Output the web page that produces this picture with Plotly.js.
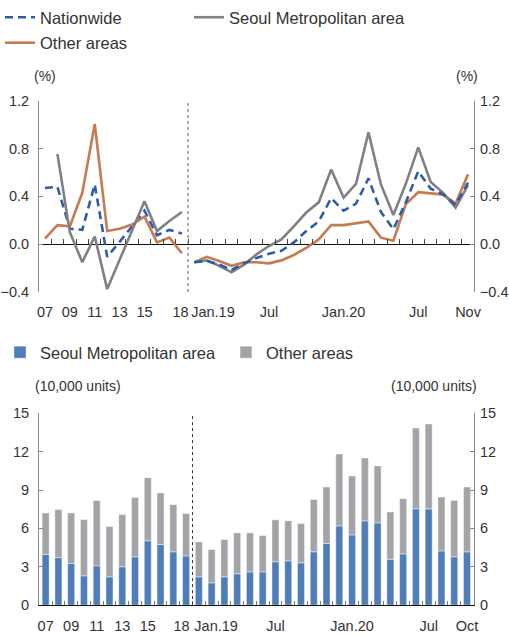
<!DOCTYPE html>
<html>
<head>
<meta charset="utf-8">
<script src="https://cdn.plot.ly/plotly-3.0.1.min.js"></script>
<style>
  html, body { margin: 0; padding: 0; background: #fff; }
  #chart { width: 509px; height: 635px; }
</style>
</head>
<body>
<div id="chart"></div>
<script>
// ---------------- DATA ----------------
const annualLabels = ['07','08','09','10','11','12','13','14','15','16','17','18'];
const monthLabels19 = ['Jan.19','Feb.19','Mar.19','Apr.19','May.19','Jun.19','Jul.19','Aug.19','Sep.19','Oct.19','Nov.19','Dec.19'];
const monthLabels20 = ['Jan.20','Feb.20','Mar.20','Apr.20','May.20','Jun.20','Jul.20','Aug.20','Sep.20','Oct.20','Nov.20'];

// Housing price change (%)
const nationAnnual = [0.47, 0.48, 0.13, 0.12, 0.50, -0.105, 0.02, 0.15, 0.28, 0.075, 0.12, 0.09];
const seoulAnnual  = [null, 0.755, 0.10, -0.15, 0.065, -0.375, -0.13, 0.115, 0.36, 0.11, 0.195, 0.27];
const otherAnnual  = [0.047, 0.16, 0.15, 0.43, 1.005, 0.11, 0.13, 0.165, 0.23, 0.015, 0.055, -0.075];

const nationMonthly = [-0.15, -0.14, -0.17, -0.215, -0.16, -0.115, -0.08, -0.055, 0.015, 0.11, 0.19, 0.385,
                       0.28, 0.34, 0.55, 0.27, 0.125, 0.35, 0.61, 0.465, 0.415, 0.33, 0.515];
const seoulMonthly  = [-0.15, -0.135, -0.18, -0.235, -0.17, -0.085, -0.015, 0.04, 0.15, 0.265, 0.35, 0.625,
                       0.39, 0.505, 0.935, 0.50, 0.245, 0.505, 0.81, 0.52, 0.43, 0.305, 0.495];
const otherMonthly  = [-0.15, -0.105, -0.14, -0.18, -0.15, -0.15, -0.16, -0.135, -0.09, -0.03, 0.04, 0.16,
                       0.16, 0.175, 0.19, 0.055, 0.03, 0.335, 0.435, 0.425, 0.415, 0.34, 0.585];

// Housing transactions (10,000 units), up to Oct.20
const seoulUnitsAnnual = [3.96, 3.72, 3.26, 2.29, 3.07, 2.21, 3.00, 3.78, 5.03, 4.74, 4.17, 3.85];
const otherUnitsAnnual = [3.25, 3.75, 3.95, 4.40, 5.11, 3.94, 4.08, 4.63, 4.94, 4.04, 3.69, 3.31];
const seoulUnitsMonthly = [2.21, 1.74, 2.21, 2.45, 2.60, 2.60, 3.39, 3.46, 3.31, 4.17, 4.82, 6.20,
                           5.49, 6.59, 6.43, 3.59, 4.01, 7.53, 7.53, 4.24, 3.78, 4.17];
const otherUnitsMonthly = [2.74, 2.61, 2.92, 3.20, 3.05, 2.84, 3.28, 3.13, 3.07, 4.09, 4.42, 5.62,
                           4.61, 4.92, 4.46, 3.70, 4.32, 6.32, 6.64, 4.22, 4.40, 5.07];

// Tick labels
const topTickLabels = ['07','09','11','13','15','18','Jan.19','Jul','Jan.20','Jul','Nov'];
const topTickKeys   = ['07','09','11','13','15','18','Jan.19','Jul.19','Jan.20','Jul.20','Nov.20'];
const botTickLabels = ['07','09','11','13','15','18','Jan.19','Jul','Jan.20','Jul','Oct'];
const botTickKeys   = ['07','09','11','13','15','18','Jan.19','Jul.19','Jan.20','Jul.20','Oct.20'];

// ---------------- BUILD ----------------
const periodsTop = annualLabels.concat(monthLabels19, monthLabels20);
const periodsBot = annualLabels.concat(monthLabels19, monthLabels20.slice(0, seoulUnitsMonthly.length - 12));
const idx = (arr, key) => arr.indexOf(key);
const xsAnnual = annualLabels.map((_, i) => i);
const xsMonthlyTop = nationMonthly.map((_, i) => i + annualLabels.length);
const xsMonthlyBot = seoulUnitsMonthly.map((_, i) => i + annualLabels.length);
const breakAt = annualLabels.length - 0.5;

// label nudges so "18" and "Jan.19" don't collide
const nudge = {'18': {top: -0.1, bot: -0.35}, 'Jan.19': {top: 1.5, bot: 1.35}};
const topTickVals = topTickKeys.map(k => idx(periodsTop, k) + (nudge[k] ? nudge[k].top : 0));
const botTickVals = botTickKeys.map(k => idx(periodsBot, k) + (nudge[k] ? nudge[k].bot : 0));
const halfTicks = n => Array.from({length: n - 1}, (_, i) => i + 0.5);

const C_NATION = '#2c5ea8';
const C_SEOUL  = '#808184';
const C_OTHER  = '#c67b52';
const C_BAR_SEOUL = '#4f7dba';
const C_BAR_OTHER = '#a2a4a7';
const TXT = '#333333';
const FONT = 'Liberation Sans, Arial, sans-serif';

const xDom = [39/509, 474/509];
const topDom = [1 - 291/635, 1 - 99/635];
const botDom = [1 - 605/635, 1 - 412.7/635];
const topRange = [-0.4, 1.2];
const topXRange = [-0.48, periodsTop.length - 1 + 0.48];
const zeroPos = topDom[0] + (0 - topRange[0]) / (topRange[1] - topRange[0]) * (topDom[1] - topDom[0]);

function line(name, x, y, color, dash, showlegend, legend, xaxis, yaxis) {
  return {
    type: 'scatter', mode: 'lines', name, x, y,
    xaxis, yaxis,
    line: {color, width: 2.6, dash: dash || 'solid'},
    legend, legendgroup: name, showlegend,
    connectgaps: false, hoverinfo: 'skip'
  };
}

const DASH = '8px,5px';
const traces = [
  line('Nationwide', xsAnnual, nationAnnual, C_NATION, DASH, true, 'legend', 'x', 'y'),
  line('Other areas', xsAnnual, otherAnnual, C_OTHER, 'solid', true, 'legend', 'x', 'y'),
  line('Seoul Metropolitan area', xsAnnual, seoulAnnual, C_SEOUL, 'solid', true, 'legend3', 'x', 'y'),
  line('Other areas', xsMonthlyTop, otherMonthly, C_OTHER, 'solid', false, 'legend', 'x2', 'y2'),
  line('Seoul Metropolitan area', xsMonthlyTop, seoulMonthly, C_SEOUL, 'solid', false, 'legend3', 'x2', 'y2'),
  line('Nationwide', xsMonthlyTop, nationMonthly, C_NATION, DASH, false, 'legend', 'x2', 'y2'),
  {
    type: 'bar', name: 'Seoul Metropolitan area',
    x: xsAnnual.concat(xsMonthlyBot), y: seoulUnitsAnnual.concat(seoulUnitsMonthly),
    xaxis: 'x3', yaxis: 'y3', legend: 'legend2',
    marker: {color: C_BAR_SEOUL, line: {color: 'rgba(255,255,255,0.7)', width: 0.6}},
    width: 0.55, hoverinfo: 'skip'
  },
  {
    type: 'bar', name: 'Other areas',
    x: xsAnnual.concat(xsMonthlyBot), y: otherUnitsAnnual.concat(otherUnitsMonthly),
    base: seoulUnitsAnnual.concat(seoulUnitsMonthly),
    xaxis: 'x3', yaxis: 'y4', legend: 'legend2',
    marker: {color: C_BAR_OTHER, line: {color: 'rgba(255,255,255,0.7)', width: 0.6}},
    width: 0.55, hoverinfo: 'skip'
  }
];

const tickFont = {family: FONT, size: 14.5, color: TXT};
const yCommon = {
  showgrid: false, zeroline: false, showline: true, linecolor: '#8a8a8a', linewidth: 1,
  ticks: 'inside', ticklen: 4, tickcolor: '#8a8a8a', tickfont: tickFont, fixedrange: true
};
const legFont = {family: FONT, size: 16.5, color: TXT};

const layout = {
  width: 509, height: 635,
  margin: {l: 0, r: 0, t: 0, b: 0},
  paper_bgcolor: '#fff', plot_bgcolor: 'rgba(0,0,0,0)',
  showlegend: true,
  barmode: 'overlay',
  font: {family: FONT, color: TXT},
  xaxis: {
    domain: xDom, anchor: 'y', range: topXRange,
    showgrid: false, zeroline: false, showline: false,
    tickmode: 'array', tickvals: topTickVals, ticktext: topTickLabels, tickangle: 0,
    ticks: 'outside', ticklen: 7, tickcolor: 'rgba(0,0,0,0)', tickfont: tickFont
  },
  xaxis2: {
    overlaying: 'x', anchor: 'free', position: zeroPos, range: topXRange,
    showgrid: false, zeroline: false, showline: false, showticklabels: false,
    tickmode: 'array', tickvals: halfTicks(periodsTop.length),
    ticks: 'inside', ticklen: 5, tickcolor: '#444', tickwidth: 1
  },
  yaxis: Object.assign({}, yCommon, {
    domain: topDom, anchor: 'x', range: topRange, tickmode: 'array',
    tickvals: [-0.4, 0, 0.4, 0.8, 1.2], tickformat: '.1f', ticklabelstandoff: 6,
    zeroline: true, zerolinecolor: '#111', zerolinewidth: 1
  }),
  yaxis2: Object.assign({}, yCommon, {
    overlaying: 'y', side: 'right', anchor: 'x', range: topRange,
    tickmode: 'array', tickvals: [-0.4, 0, 0.4, 0.8, 1.2], tickformat: '.1f', ticklabelstandoff: 2
  }),
  xaxis3: {
    domain: xDom, anchor: 'y3', range: [-0.52, periodsBot.length - 1 + 0.55],
    showgrid: false, zeroline: false, showline: true, linecolor: '#111', linewidth: 1,
    tickmode: 'array', tickvals: botTickVals, ticktext: botTickLabels, tickangle: 0,
    ticks: 'outside', ticklen: 8, tickcolor: 'rgba(0,0,0,0)', tickfont: tickFont,
    minor: {tickmode: 'array', tickvals: halfTicks(periodsBot.length), ticks: 'inside', ticklen: 4, tickcolor: '#777', showgrid: false}
  },
  yaxis3: Object.assign({}, yCommon, {
    domain: botDom, anchor: 'x3', range: [0, 15], tickmode: 'array',
    tickvals: [0, 3, 6, 9, 12, 15], ticklabelstandoff: 6
  }),
  yaxis4: Object.assign({}, yCommon, {
    overlaying: 'y3', side: 'right', anchor: 'x3', range: [0, 15],
    tickmode: 'array', tickvals: [0, 3, 6, 9, 12, 15], ticklabelstandoff: 2
  }),
  legend: {
    orientation: 'v', x: 0, xanchor: 'left', y: 1 + 2/635, yanchor: 'top',
    itemwidth: 30, font: legFont, bgcolor: 'rgba(0,0,0,0)',
    traceorder: 'grouped', tracegroupgap: 1
  },
  legend3: {
    orientation: 'v', x: 189/509, xanchor: 'left', y: 1 + 2/635, yanchor: 'top',
    itemwidth: 30, font: legFont, bgcolor: 'rgba(0,0,0,0)'
  },
  legend2: {
    orientation: 'h', x: 0, xanchor: 'left', y: 1 - 334/635, yanchor: 'top',
    entrywidth: 181, entrywidthmode: 'pixels',
    font: legFont, bgcolor: 'rgba(0,0,0,0)', traceorder: 'normal'
  },
  shapes: [
    {type: 'line', xref: 'x', yref: 'y domain', x0: breakAt, x1: breakAt, y0: 0, y1: 1,
     line: {color: '#777', width: 1.2, dash: 'dot'}},
    {type: 'line', xref: 'x3', yref: 'y3 domain', x0: breakAt, x1: breakAt, y0: 0, y1: 1,
     line: {color: '#333', width: 1, dash: 'dot'}}
  ],
  annotations: [
    {text: '(%)', xref: 'paper', yref: 'paper', x: 45/509, y: 1 - 74/635, xanchor: 'center', yanchor: 'middle', showarrow: false, font: {family: FONT, size: 14, color: TXT}},
    {text: '(%)', xref: 'paper', yref: 'paper', x: 467/509, y: 1 - 74/635, xanchor: 'center', yanchor: 'middle', showarrow: false, font: {family: FONT, size: 14, color: TXT}},
    {text: '(10,000 units)', xref: 'paper', yref: 'paper', x: 77.5/509, y: 1 - 385/635, xanchor: 'center', yanchor: 'middle', showarrow: false, font: {family: FONT, size: 14, color: TXT}},
    {text: '(10,000 units)', xref: 'paper', yref: 'paper', x: 434/509, y: 1 - 385/635, xanchor: 'center', yanchor: 'middle', showarrow: false, font: {family: FONT, size: 14, color: TXT}}
  ]
};

Plotly.newPlot('chart', traces, layout, {staticPlot: true, displayModeBar: false});
</script>
</body>
</html>
